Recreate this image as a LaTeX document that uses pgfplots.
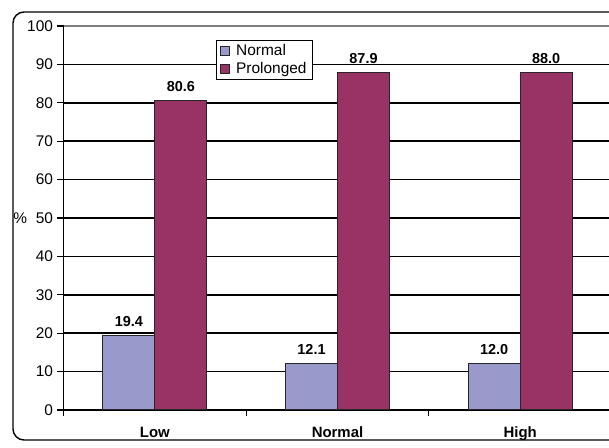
\documentclass[border=0pt]{standalone}
\usepackage{fontspec}
\setmainfont{Liberation Sans}
\usepackage{pgfplots}
\pgfplotsset{compat=1.18}
\definecolor{barblue}{HTML}{9999CC}
\definecolor{barmaroon}{HTML}{993366}
\begin{document}
\begin{tikzpicture}[x=1bp,y=1bp]
\useasboundingbox (0,0) rectangle (609,448);
% rounded outer frame of the chart
\draw[line width=1.4bp, rounded corners=11bp] (13,436) rectangle (680,8);
\begin{axis}[
  at={(63.5bp,38bp)}, anchor=south west,
  scale only axis, width=548bp, height=384bp,
  ybar=0pt, bar width=52bp,
  xmin=-0.5, xmax=2.5, ymin=0, ymax=100,
  axis x line*=bottom, axis y line*=left,
  axis line style={-, black, line width=1.6bp},
  ytick={0,10,...,90},
  extra y ticks={100},
  extra y tick style={grid style={black!50, line width=1.8bp}},
  ymajorgrids,
  grid style={black, line width=1.7bp},
  xtick={-0.5,0.5,1.5,2.5}, xticklabels={},
  extra x ticks={0,1,2},
  extra x tick labels={Low,Normal,High},
  extra x tick style={major tick length=0pt, xmajorgrids=false},
  tick align=outside, major tick length=6bp,
  tick style={black, line width=1.2bp},
  /pgf/number format/assume math mode=true,
  yticklabel style={font=\fontsize{15.5}{18}\selectfont, xshift=-1bp},
  xticklabel style={font=\bfseries\fontsize{15}{18}\selectfont, anchor=base, yshift=-28bp},
  ylabel={\%},
  ylabel style={font=\fontsize{15.5}{18}\selectfont, rotate=-90, at={(axis description cs:-0.079,0.5)}, anchor=center},
  nodes near coords={\pgfmathprintnumber[fixed,fixed zerofill,precision=1]{\pgfplotspointmeta}},
  nodes near coords style={font=\bfseries\fontsize{14.5}{17}\selectfont, anchor=base, yshift=9bp, black},
  legend style={at={(0.278,0.963)}, anchor=north west, draw=black, line width=1bp,
    fill=white, font=\fontsize{15.5}{18}\selectfont, inner xsep=4bp, inner ysep=2bp,
    row sep=1pt, cells={anchor=west}},
  legend image code/.code={\draw[#1, line width=0.7bp] (1bp,-4.4bp) rectangle (9.8bp,4.4bp); \path (14bp,0bp);},
]
\addplot[fill=barblue, draw=black!85, line width=1bp] coordinates {(0,19.4) (1,12.1) (2,12.0)};
\addplot[fill=barmaroon, draw=black!85, line width=1bp] coordinates {(0,80.6) (1,87.9) (2,88.0)};
\legend{Normal,Prolonged}
\end{axis}
\end{tikzpicture}
\end{document}
